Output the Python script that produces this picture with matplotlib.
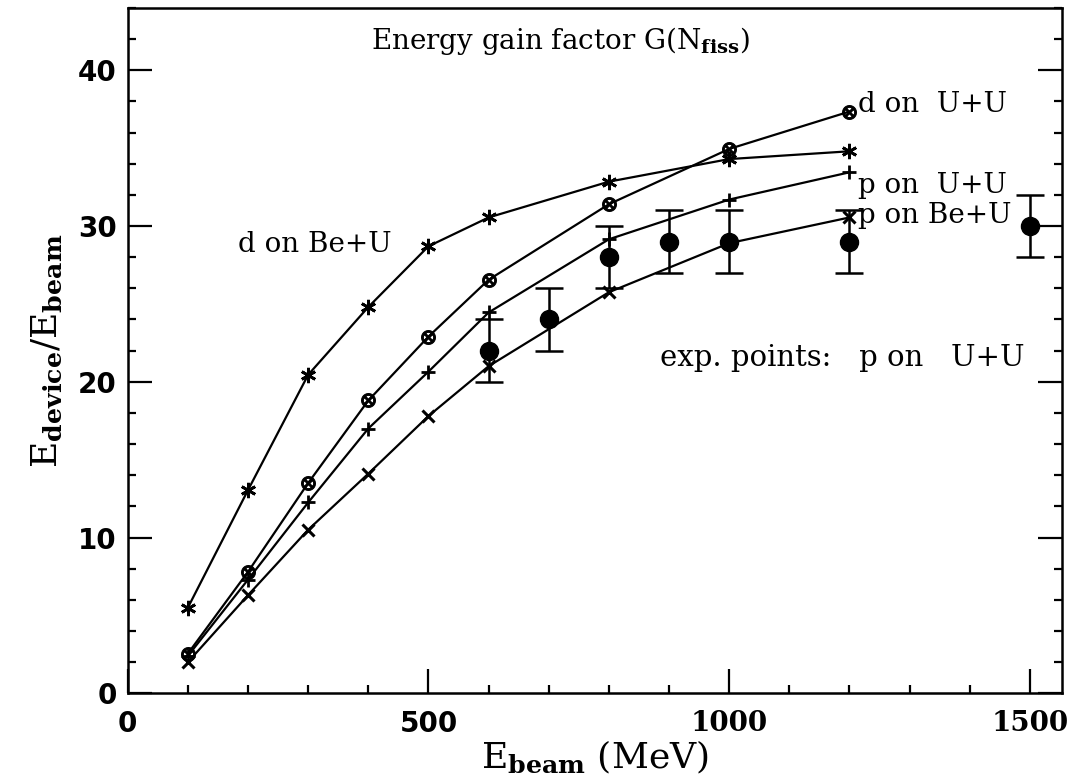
import matplotlib
matplotlib.use("Agg")
import matplotlib.pyplot as plt
from matplotlib.ticker import MultipleLocator

plt.rcParams["mathtext.fontset"] = "dejavuserif"

# ---- data ----
energy = [100, 200, 300, 400, 500, 600, 800, 1000, 1200]
d_BeU = [5.5, 13.05, 20.45, 24.8, 28.7, 30.55, 32.85, 34.3, 34.8]
d_UU = [2.55, 7.8, 13.5, 18.8, 22.9, 26.55, 31.4, 34.95, 37.35]
p_UU = [2.4, 7.3, 12.25, 17.0, 20.65, 24.45, 29.15, 31.7, 33.45]
p_BeU = [2.0, 6.3, 10.5, 14.1, 17.8, 21.0, 25.75, 28.9, 30.55]

exp_energy = [600, 700, 800, 900, 1000, 1200, 1500]
exp_gain = [22.0, 24.0, 28.0, 29.0, 29.0, 29.0, 30.0]
exp_err = [2.0, 2.0, 2.0, 2.0, 2.0, 2.0, 2.0]

x_ticks = [0, 500, 1000, 1500]
y_ticks = [0, 10, 20, 30, 40]

# ---- figure ----
fig = plt.figure(figsize=(10.69, 7.84), dpi=100)
ax = fig.add_axes([0.1195, 0.1157, 0.8737, 0.8741])

serif = "DejaVu Serif"
lw = 1.6
kw = dict(color="black", lw=lw)
ax.plot(energy, d_BeU, marker=(6, 2, 0), ms=11, mew=2.0, **kw)
ax.plot(energy, d_UU, marker=r"$\otimes$", ms=10, mew=0.8, **kw)
ax.plot(energy, p_UU, marker="+", ms=10, mew=2.0, **kw)
ax.plot(energy, p_BeU, marker="x", ms=8, mew=2.2, **kw)
ax.errorbar(exp_energy, exp_gain, yerr=exp_err, fmt="o", color="black",
            ms=13, elinewidth=1.8, capsize=10, capthick=1.8)

ax.set_xlim(0, 1553)
ax.set_ylim(0, 44)
ax.set_xticks(x_ticks)
ax.set_yticks(y_ticks)
ax.xaxis.set_minor_locator(MultipleLocator(100))
ax.yaxis.set_minor_locator(MultipleLocator(2))
ax.tick_params(which="both", direction="in", top=False, right=True,
               width=1.6, labelsize=20)
ax.tick_params(axis="x", which="major", length=17, pad=12)
ax.tick_params(axis="y", which="major", length=17, pad=8)
ax.tick_params(which="minor", length=6)
for lab in ax.get_yticklabels():
    lab.set_family("DejaVu Sans")
    lab.set_fontweight("bold")
for i, lab in enumerate(ax.get_xticklabels()):
    lab.set_family("DejaVu Sans" if i < 2 else serif)
    lab.set_fontweight("bold")
for s in ax.spines.values():
    s.set_linewidth(1.8)

tfont = dict(family=serif, fontsize=20, color="black")
ax.text(719, 41.9, r"Energy gain factor G(N$_{\mathbf{fiss}}$)", ha="center",
        va="center", **tfont)
ax.text(1215, 37.8, "d on  U+U", ha="left", va="center", **tfont)
ax.text(1215, 32.6, "p on  U+U", ha="left", va="center", **tfont)
ax.text(1215, 30.7, "p on Be+U", ha="left", va="center", **tfont)
ax.text(184, 28.8, "d on Be+U", ha="left", va="center", **tfont)
ax.text(885, 21.5, "exp. points:   p on   U+U", ha="left", va="center",
        family=serif, fontsize=21, color="black")

ax.set_xlabel(r"E$_{\mathbf{beam}}$ (MeV)", family=serif, fontsize=26, labelpad=0)
ax.set_ylabel(r"E$_{\mathbf{device}}$/E$_{\mathbf{beam}}$", family=serif,
              fontsize=26, labelpad=10)

fig.savefig("out.png", dpi=100)
